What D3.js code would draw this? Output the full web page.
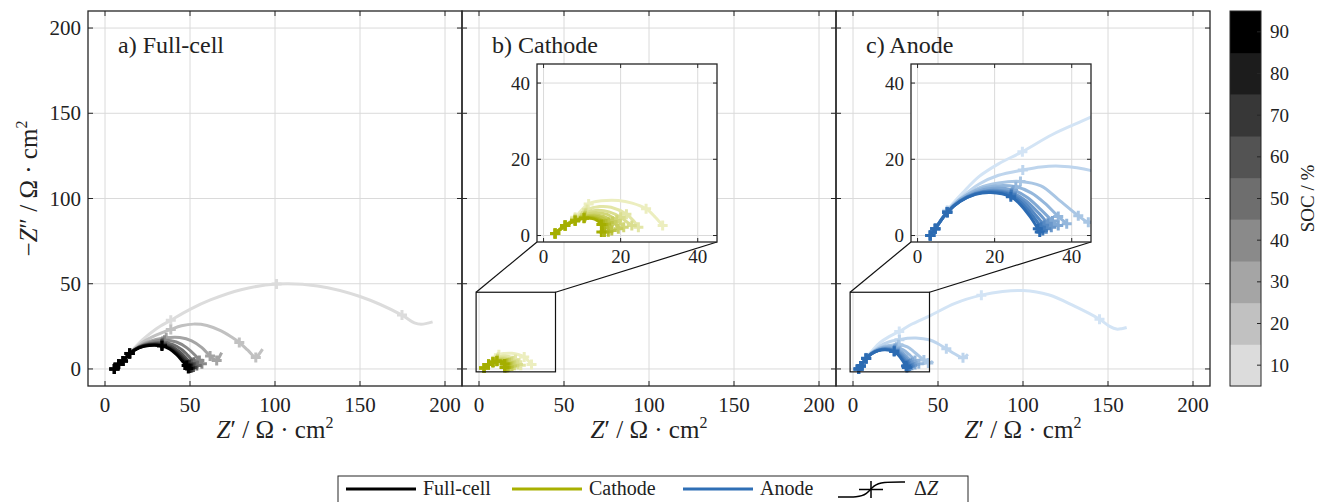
<!DOCTYPE html>
<html>
<head>
<meta charset="utf-8">
<script src="https://cdn.jsdelivr.net/npm/d3@7/dist/d3.min.js"></script>
<style>
  body { margin: 0; background: #fff; }
  svg text { font-family: "Liberation Serif", "DejaVu Serif", serif; fill: #222; }
</style>
</head>
<body>
<div id="chart"></div>
<script>
// ---- data ----
const socLevels = [10, 20, 30, 40, 50, 60, 70, 80, 90];
const mainTicks = [0, 50, 100, 150, 200];
const insetTicks = [0, 20, 40];
const panelTitles = ['a) Full-cell', 'b) Cathode', 'c) Anode'];
const legendNames = ['Full-cell', 'Cathode', 'Anode'];

// Full-cell spectra (Z', -Z''), one list per SOC 10..90
const fullCell = [
  [[5.5,0],[8,2.8],[10.6,4.7],[14.5,9.2],[22,17],[30,23.5],[38.7,28.6],[50,35],[62,40.5],[80,46.5],[100.9,49.8],[125,48.7],[150,42.5],[174.7,31.6],[182,27],[186,26.2],[192.7,27.6]],
  [[5.5,0],[8,2.8],[10.6,4.7],[14.5,9.1],[22,15.5],[30,19.8],[38.7,23.2],[45,25.3],[52,26.3],[60,25.5],[68,22.5],[74,19],[79,15.5],[84,11],[88.7,6.7],[90.5,8.5],[92.7,11.6]],
  [[5.5,0],[8,2.8],[10.6,4.7],[14.5,9],[22,14.5],[30,17.3],[36,18.3],[44,18.4],[51,16.5],[57,12.5],[61.8,7.6],[65.7,5],[67.5,7.5],[68.6,9.6]],
  [[5.5,0],[8,2.8],[10.6,4.7],[14.5,9],[21,13.5],[28,16],[35,16.8],[42,15.8],[48,12.5],[53,8],[55.5,5],[57,3]],
  [[5.5,0],[8,2.8],[10.6,4.7],[14.5,9],[21,13.2],[27,15],[34,15.5],[40,14.3],[45,11.5],[49.5,7.2],[52.3,4],[54,2]],
  [[5.5,0],[8,2.8],[10.6,4.7],[14.5,9],[20,12.8],[26,14.5],[33.5,14.8],[39,13.3],[44,10],[48,6],[50.7,3],[52,1.2]],
  [[5.5,0],[8,2.8],[10.6,4.7],[14.5,9],[20,12.6],[26,14.2],[33.5,14.2],[38.5,12.5],[43,9.3],[47,5.3],[49.7,2.5],[51,0.8]],
  [[5.5,0],[8,2.8],[10.6,4.7],[14.5,9],[20,12.5],[26,14],[33.5,13.8],[38.3,12],[42.5,8.8],[46.3,4.8],[48.8,2.2],[50,0.5]],
  [[5.5,0],[8,2.8],[10.6,4.7],[14.5,9],[20,12.4],[26,13.8],[33.5,13.5],[38,11.7],[42,8.5],[45.5,4.6],[48,2],[49,0.3]]
];
// indices of the ΔZ (+) markers in each list
const fullCellMarks = [
  [0,1,2,3,6,10,13], [0,1,2,3,6,12,14], [0,1,2,3,6,10,11],
  [0,1,2,3,6,10,11], [0,1,2,3,6,10,11], [0,1,2,3,6,10,11],
  [0,1,2,3,6,10,11], [0,1,2,3,6,10,11], [0,1,2,3,6,10,11]
];

const cathode = [
  [[3,0.5],[5.6,2.6],[8.2,4.8],[11.7,8.3],[15,9.1],[19.4,9.2],[23,8.5],[26.6,7],[29,4.8],[30.9,2.6]],
  [[3,0.5],[5.6,2.6],[8.2,4.5],[11.3,6.8],[14.5,7.6],[17.5,7.4],[21.5,5.6],[23.4,3.8],[24.6,2.2]],
  [[3,0.5],[5.6,2.6],[8.2,4.3],[11,6],[14,6.6],[17,6.2],[20,4.8],[21.8,3.4],[22.9,2.6]],
  [[3,0.5],[5.6,2.6],[8.2,4.2],[10.8,5.5],[13.5,6],[16.3,5.6],[19,4],[20.3,2.9],[20.8,2.2]],
  [[3,0.5],[5.6,2.6],[8.2,4.1],[10.8,5.1],[13.2,5.4],[15.6,5],[17.9,3.7],[19,2.5],[19.4,1.8]],
  [[3,0.5],[5.6,2.6],[8.2,4],[10.7,4.9],[13,5.1],[15.2,4.6],[16.9,3.4],[17.6,2],[17.7,1.3]],
  [[3,0.5],[5.6,2.6],[8.2,3.9],[10.6,4.7],[12.8,4.8],[14.8,4.2],[16.2,3],[16.8,1.7],[16.8,1]],
  [[3,0.5],[5.6,2.6],[8.2,3.9],[10.5,4.6],[12.6,4.6],[14.4,4],[15.5,2.9],[15.9,1.7],[15.8,0.9]],
  [[3,0.5],[5.6,2.6],[8.2,3.9],[10.5,4.5],[12.4,4.5],[14,3.9],[15,2.9],[15.3,1.7],[15,0.9]]
];
const cathodeMarks = [
  [0,1,2,3,7,9], [0,1,2,3,6,8], [0,1,2,3,6,8], [0,1,2,3,6,8], [0,1,2,3,6,8],
  [0,1,2,3,6,8], [0,1,2,3,6,8], [0,1,2,3,6,8], [0,1,2,3,6,8]
];

const anode = [
  [[3.3,0],[4.6,1.8],[7.7,6.6],[12,11.5],[16,15.5],[21,18.8],[27.2,22],[35,26.5],[44.8,31],[60,38.5],[75.5,43.3],[88,45.5],[100,46],[115,43.5],[130,37],[145,29.2],[151,25],[155,23.4],[158,23.6],[161,24.3]],
  [[3.3,0],[4.6,1.8],[7.7,6.4],[12,10.5],[16,13.5],[21,15.8],[27.3,17.2],[32,18],[37,18.2],[44.8,17.1],[50,14.8],[54.9,11.9],[60,8.8],[64.7,6.6],[66.5,7.6],[67.6,8.6]],
  [[3.3,0],[4.6,1.8],[7.7,6.3],[12,10],[16,12.5],[21,13.8],[26.7,14.2],[32,13],[36.5,9.5],[41.7,5.2],[44.3,3.5],[46,3.8],[47,4.6]],
  [[3.3,0],[4.6,1.8],[7.7,6.2],[11,9.5],[15,11.8],[20,13],[25.5,12.8],[29.5,11.2],[33,8.5],[36.5,5],[38.7,3.1]],
  [[3.3,0],[4.6,1.8],[7.7,6.1],[11,9.2],[15,11.4],[19.5,12.4],[24.8,11.9],[28.5,10],[32,6.8],[35,3.8],[36.5,2.6]],
  [[3.3,0],[4.6,1.8],[7.7,6.1],[11,9.1],[15,11.1],[19,11.9],[24.5,11.2],[28,9.2],[31.5,5.8],[33.8,3.2],[34.7,2.2]],
  [[3.3,0],[4.6,1.8],[7.7,6.1],[11,9],[15,11],[19,11.7],[24.3,10.9],[27.5,8.8],[30.8,5.2],[32.8,2.7],[33.4,1.8]],
  [[3.3,0],[4.6,1.8],[7.7,6.1],[11,9],[15,10.9],[19,11.5],[24.3,10.6],[27,8.5],[30,5],[32,2.2],[32.5,1.3]],
  [[3.3,0],[4.6,1.8],[7.7,6.1],[11,8.9],[15,10.8],[19,11.3],[24.2,10.2],[26.5,8.3],[29.3,4.8],[31.2,1.8],[31.7,0.9]]
];
const anodeMarks = [
  [0,1,2,6,10,15], [0,1,2,6,11,13], [0,1,2,6,9,10], [0,1,2,6,9,10], [0,1,2,6,9,10],
  [0,1,2,6,9,10], [0,1,2,6,9,10], [0,1,2,6,9,10], [0,1,2,6,9,10]
];

// ---- layout ----
const W = 1317, H = 502;
const panelLeft = [88, 462, 836];
const panelTop = 11, panelW = 374, panelH = 375;
const inset = { left: 75, top: 53, w: 180, h: 178, domain: [-1.7, 45] };
const serif = "'Liberation Serif', 'DejaVu Serif', serif";

const svg = d3.select('#chart').append('svg')
  .attr('width', W).attr('height', H)
  .attr('font-family', serif)
  .style('font-family', serif);

const x = d3.scaleLinear().domain([-10, 210]).range([0, panelW]);
const y = d3.scaleLinear().domain([-10, 210]).range([panelH, 0]);
const ix = d3.scaleLinear().domain(inset.domain).range([0, inset.w]);
const iy = d3.scaleLinear().domain(inset.domain).range([inset.h, 0]);

// colour ramps per SOC
const greyScale = d3.scaleLinear().domain([10, 90]).range(['#dcdcdc', '#000000']);
const oliveScale = d3.scaleLinear().domain([10, 90]).range(['#eceebf', '#a4ae00']);
const blueScale = d3.scaleLinear().domain([10, 90]).range(['#d3e4f5', '#2c6bb2']);

const gridColor = '#dadada', axisColor = '#262626';

function plus(cx, cy, s) {
  return `M${cx - s},${cy}h${2 * s}M${cx},${cy - s}v${2 * s}`;
}

function drawCurves(g, curves, marks, colorScale, xs, ys, clipId) {
  const line = d3.line()
    .x(d => xs(d[0]))
    .y(d => ys(d[1]))
    .curve(d3.curveCatmullRom.alpha(0.5));
  const cg = g.append('g').attr('clip-path', `url(#${clipId})`);
  curves.forEach((pts, k) => {
    const col = colorScale(socLevels[k]);
    cg.append('path')
      .attr('d', line(pts))
      .attr('fill', 'none')
      .attr('stroke', col)
      .attr('stroke-width', 3)
      .attr('stroke-linejoin', 'round');
    cg.append('path')
      .attr('d', marks[k].map(j => plus(xs(pts[j][0]), ys(pts[j][1]), 5)).join(''))
      .attr('fill', 'none')
      .attr('stroke', col)
      .attr('stroke-width', 3);
  });
}

function drawGrid(g, xs, ys, ticks, w, h) {
  g.append('g').selectAll('line').data(ticks).join('line')
    .attr('x1', d => xs(d)).attr('x2', d => xs(d))
    .attr('y1', 0).attr('y2', h)
    .attr('stroke', gridColor).attr('stroke-width', 1);
  g.append('g').selectAll('line').data(ticks).join('line')
    .attr('y1', d => ys(d)).attr('y2', d => ys(d))
    .attr('x1', 0).attr('x2', w)
    .attr('stroke', gridColor).attr('stroke-width', 1);
}

function drawFrame(g, xs, ys, ticks, w, h, tickLen) {
  const t = g.append('g').attr('stroke', axisColor).attr('stroke-width', 1);
  ticks.forEach(v => {
    t.append('line').attr('x1', xs(v)).attr('x2', xs(v)).attr('y1', h).attr('y2', h - tickLen);
    t.append('line').attr('x1', xs(v)).attr('x2', xs(v)).attr('y1', 0).attr('y2', tickLen);
    t.append('line').attr('y1', ys(v)).attr('y2', ys(v)).attr('x1', 0).attr('x2', tickLen);
    t.append('line').attr('y1', ys(v)).attr('y2', ys(v)).attr('x1', w).attr('x2', w - tickLen);
  });
  g.append('rect')
    .attr('width', w).attr('height', h)
    .attr('fill', 'none').attr('stroke', axisColor).attr('stroke-width', 1.3);
}

const defs = svg.append('defs');
defs.append('clipPath').attr('id', 'clipMain')
  .append('rect').attr('width', panelW).attr('height', panelH);
defs.append('clipPath').attr('id', 'clipInset')
  .append('rect').attr('width', inset.w).attr('height', inset.h);

const panelData = [
  { curves: fullCell, marks: fullCellMarks, color: greyScale, inset: false },
  { curves: cathode, marks: cathodeMarks, color: oliveScale, inset: true },
  { curves: anode, marks: anodeMarks, color: blueScale, inset: true }
];

panelData.forEach((p, i) => {
  const g = svg.append('g').attr('transform', `translate(${panelLeft[i]},${panelTop})`);
  drawGrid(g, x, y, mainTicks, panelW, panelH);
  drawCurves(g, p.curves, p.marks, p.color, x, y, 'clipMain');

  if (p.inset) {
    // zoom rectangle + connectors
    const r0 = x(inset.domain[0]), r1 = x(inset.domain[1]);
    const t0 = y(inset.domain[1]), b0 = y(inset.domain[0]);
    g.append('rect')
      .attr('x', r0).attr('y', t0).attr('width', r1 - r0).attr('height', b0 - t0)
      .attr('fill', 'none').attr('stroke', '#111').attr('stroke-width', 1.2);
    g.append('line')
      .attr('x1', r0).attr('y1', t0).attr('x2', inset.left).attr('y2', inset.top + inset.h)
      .attr('stroke', '#111').attr('stroke-width', 1.2);
    g.append('line')
      .attr('x1', r1).attr('y1', t0).attr('x2', inset.left + inset.w).attr('y2', inset.top + inset.h)
      .attr('stroke', '#111').attr('stroke-width', 1.2);

    const ig = g.append('g').attr('transform', `translate(${inset.left},${inset.top})`);
    ig.append('rect').attr('width', inset.w).attr('height', inset.h).attr('fill', '#fff');
    drawGrid(ig, ix, iy, insetTicks, inset.w, inset.h);
    drawCurves(ig, p.curves, p.marks, p.color, ix, iy, 'clipInset');
    drawFrame(ig, ix, iy, insetTicks, inset.w, inset.h, 4);
    ig.append('g').selectAll('text').data(insetTicks).join('text')
      .attr('x', -7).attr('y', d => iy(d)).attr('dy', '0.34em')
      .attr('text-anchor', 'end').style('font-size', '19px').text(d => d);
    ig.append('g').selectAll('text').data(insetTicks).join('text')
      .attr('x', d => ix(d)).attr('y', inset.h + 21)
      .attr('text-anchor', 'middle').style('font-size', '19px').text(d => d);
  }

  drawFrame(g, x, y, mainTicks, panelW, panelH, 5);

  // x tick labels
  g.append('g').selectAll('text').data(mainTicks).join('text')
    .attr('x', d => x(d)).attr('y', panelH + 26)
    .attr('text-anchor', 'middle').style('font-size', '21px').text(d => d);
  if (i === 0) {
    g.append('g').selectAll('text').data(mainTicks).join('text')
      .attr('x', -7).attr('y', d => y(d)).attr('dy', '0.34em')
      .attr('text-anchor', 'end').style('font-size', '21px').text(d => d);
  }

  // panel title
  g.append('text')
    .attr('x', 30).attr('y', 42)
    .style('font-size', '24px')
    .text(panelTitles[i]);

  // x axis label
  const xl = g.append('text')
    .attr('x', panelW / 2).attr('y', panelH + 52)
    .attr('text-anchor', 'middle').style('font-size', '25px');
  xl.append('tspan').style('font-style', 'italic').text('Z');
  xl.append('tspan').text('\u2032 / \u03A9 \u00B7 cm');
  xl.append('tspan').attr('dy', -10).style('font-size', '16px').text('2');
});

// y axis label
const yl = svg.append('text')
  .attr('transform', `translate(37,${panelTop + panelH / 2 - 10}) rotate(-90)`)
  .attr('text-anchor', 'middle').style('font-size', '25px');
yl.append('tspan').text('\u2212');
yl.append('tspan').style('font-style', 'italic').text('Z');
yl.append('tspan').text('\u2033 / \u03A9 \u00B7 cm');
yl.append('tspan').attr('dy', -10).style('font-size', '16px').text('2');

// ---- colorbar ----
const cb = { x: 1230, w: 31 };
const cbScale = d3.scaleBand().domain(socLevels).range([panelTop + panelH, panelTop]).padding(0);
const cbg = svg.append('g');
cbg.selectAll('rect').data(socLevels).join('rect')
  .attr('x', cb.x).attr('y', d => cbScale(d))
  .attr('width', cb.w).attr('height', cbScale.bandwidth() + 0.5)
  .attr('fill', d => greyScale(d));
cbg.append('rect')
  .attr('x', cb.x).attr('y', panelTop).attr('width', cb.w).attr('height', panelH)
  .attr('fill', 'none').attr('stroke', axisColor).attr('stroke-width', 1);
cbg.selectAll('line').data(socLevels).join('line')
  .attr('x1', cb.x + cb.w - 4).attr('x2', cb.x + cb.w)
  .attr('y1', d => cbScale(d) + cbScale.bandwidth() / 2)
  .attr('y2', d => cbScale(d) + cbScale.bandwidth() / 2)
  .attr('stroke', axisColor);
cbg.selectAll('text').data(socLevels).join('text')
  .attr('x', cb.x + cb.w + 9)
  .attr('y', d => cbScale(d) + cbScale.bandwidth() / 2)
  .attr('dy', '0.34em').style('font-size', '19px').text(d => d);
svg.append('text')
  .attr('transform', `translate(1314,${panelTop + panelH / 2}) rotate(-90)`)
  .attr('text-anchor', 'middle').style('font-size', '19px')
  .text('SOC / %');

// ---- legend ----
const lg = svg.append('g');
lg.append('rect').attr('x', 338).attr('y', 476).attr('width', 630).attr('height', 40)
  .attr('fill', '#fff').attr('stroke', axisColor).attr('stroke-width', 1);
const legendColors = ['#000000', '#a8b000', '#2f6fb5'];
const legendX = [346, 512, 683];
legendNames.forEach((name, k) => {
  lg.append('line')
    .attr('x1', legendX[k]).attr('x2', legendX[k] + 70)
    .attr('y1', 489).attr('y2', 489)
    .attr('stroke', legendColors[k]).attr('stroke-width', 3);
  lg.append('text')
    .attr('x', legendX[k] + 77).attr('y', 495)
    .style('font-size', '20px').text(name);
});
// ΔZ glyph: step-like curve with a + marker
const glyph = d3.line().curve(d3.curveBasis);
lg.append('path')
  .attr('d', glyph([[838, 497], [858, 497], [866, 495], [874, 485], [882, 482], [905, 482]]))
  .attr('fill', 'none').attr('stroke', '#000').attr('stroke-width', 1.5);
lg.append('path')
  .attr('d', 'M859,489.5h24M871,481v17')
  .attr('fill', 'none').attr('stroke', '#000').attr('stroke-width', 1.5);
const dz = lg.append('text').attr('x', 914).attr('y', 495).style('font-size', '20px');
dz.append('tspan').text('\u0394');
dz.append('tspan').style('font-style', 'italic').text('Z');
</script>
</body>
</html>
